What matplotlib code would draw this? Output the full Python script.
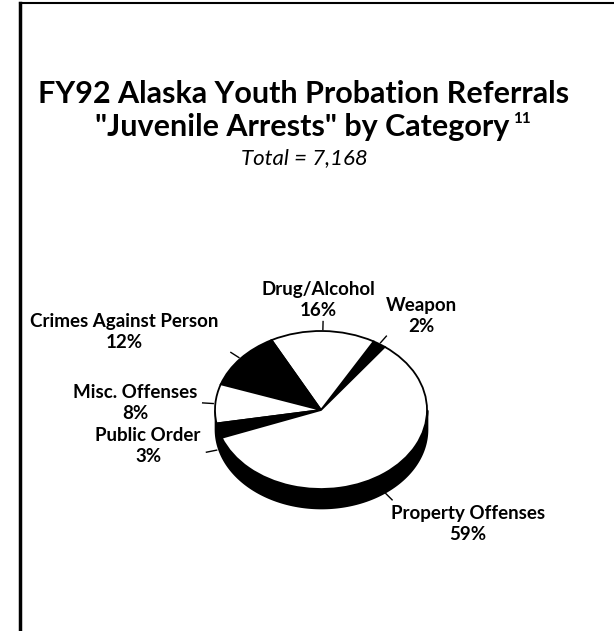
import matplotlib.pyplot as plt
import numpy as np

# pie data, counter-clockwise from the Weapon slice
categories = ["Weapon", "Drug/Alcohol", "Crimes Against Person",
              "Misc. Offenses", "Public Order", "Property Offenses"]
percents = [2, 16, 12, 8, 3, 59]
slice_colors = ["black", "white", "black", "white", "black", "white"]
total = "7,168"

W, H = 614, 631
FONT = "Lato"


def fx(x):
    return x / W


def fy(y):
    return 1 - y / H


fig = plt.figure(figsize=(W / 100, H / 100), dpi=100)

# border (left and top edge of the scanned box)
fig.add_artist(plt.Line2D([fx(20), fx(20)], [0, fy(3)], color="black", lw=2.5))
fig.add_artist(plt.Line2D([fx(20), 1], [fy(3), fy(3)], color="black", lw=1.5))

# titles
fig.text(fx(304), fy(94), "FY92 Alaska Youth Probation Referrals", ha="center", va="center",
         fontsize=22, fontweight="bold", family=FONT)
t2 = fig.text(fx(302), fy(127), '"Juvenile Arrests" by Category', ha="center", va="center",
              fontsize=22, fontweight="bold", family=FONT)
renderer = fig.canvas.get_renderer()
bb = t2.get_window_extent(renderer)
fig.text((bb.x1 + 4) / W, fy(119), "11", ha="left", va="center",
         fontsize=11, fontweight="bold", family=FONT)
fig.text(fx(304), fy(158), f"Total = {total}", ha="center", va="center",
         fontsize=16, fontstyle="italic", family=FONT)

# pie axes: unit circle -> ellipse rx=106, ry=79 px centred at (321, 410)
cx, cy, rx, ry = 321, 410, 106, 79
aw, ah = 3 * rx, 3 * ry
ax = fig.add_axes([fx(cx - aw / 2), fy(cy + ah / 2), aw / W, ah / H])
depth = 19 / ry

# side wall of the tilted pie
t = np.linspace(np.pi, 2 * np.pi, 200)
ax.fill_between(np.cos(t), np.sin(t), np.sin(t) - depth, color="black", lw=1.2, zorder=1)

start = 53
wedges, _ = ax.pie(percents, colors=slice_colors, startangle=start, counterclock=True,
                   wedgeprops=dict(edgecolor="black", linewidth=1.3, zorder=2))
ax.set_aspect("auto")
ax.set_xlim(-1.5, 1.5)
ax.set_ylim(-1.5, 1.5)
ax.axis("off")

# leader ticks at each slice's mid angle
for w in wedges:
    a = np.deg2rad((w.theta1 + w.theta2) / 2)
    off = depth if np.sin(a) < 0 else 0
    ax.plot([np.cos(a) * 1.02, np.cos(a) * 1.12],
            [np.sin(a) * 1.02 - off, np.sin(a) * 1.12 - off],
            color="black", lw=1, zorder=3)

# slice labels (centre position in pixels)
label_pos = {
    "Weapon": (421, 316),
    "Drug/Alcohol": (318, 300),
    "Crimes Against Person": (124, 332),
    "Misc. Offenses": (135, 403),
    "Public Order": (148, 446),
    "Property Offenses": (468, 524),
}
for name, p in zip(categories, percents):
    x, y = label_pos[name]
    fig.text(fx(x), fy(y), f"{name}\n{p}%", ha="center", va="center",
             multialignment="center", linespacing=1.25,
             fontsize=13.5, fontweight="bold", family=FONT)

fig.savefig("out.png", dpi=100)
